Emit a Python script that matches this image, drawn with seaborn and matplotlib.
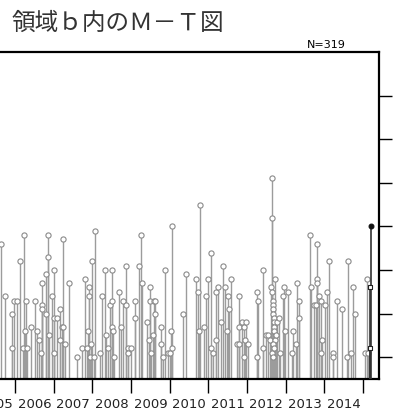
import matplotlib
matplotlib.use('Agg')
import matplotlib.pyplot as plt
import matplotlib.transforms as mtransforms
import seaborn as sns

# 発生時刻（年、小数表記）とマグニチュード — 図から読み取り
years = [
    2005.64, 2005.73, 2005.93, 2005.93, 2005.97, 2006.06, 2006.13, 2006.20, 2006.23, 2006.26,
    2006.29, 2006.30, 2006.41, 2006.51, 2006.58, 2006.61, 2006.67, 2006.70, 2006.70, 2006.71,
    2006.79, 2006.81, 2006.84, 2006.84, 2006.87, 2006.95, 2007.00, 2007.00, 2007.02, 2007.09,
    2007.17, 2007.17, 2007.22, 2007.25, 2007.25, 2007.30,
    2007.39, 2007.60, 2007.74, 2007.82, 2007.85, 2007.89, 2007.91, 2007.92, 2007.94, 2007.96,
    2008.00, 2008.05, 2008.07, 2008.20, 2008.25, 2008.33, 2008.34, 2008.41, 2008.46, 2008.51,
    2008.52, 2008.52, 2008.53, 2008.57, 2008.68, 2008.74, 2008.80, 2008.86, 2008.88, 2008.91,
    2008.91,
    2009.01, 2009.09, 2009.10, 2009.20, 2009.26, 2009.29, 2009.42, 2009.46, 2009.48, 2009.49,
    2009.51, 2009.56, 2009.60, 2009.63, 2009.63, 2009.77, 2009.77, 2009.83, 2009.89, 2009.95,
    2010.00, 2010.03, 2010.05, 2010.06, 2010.35, 2010.42,
    2010.68, 2010.73, 2010.77, 2010.78, 2010.88, 2010.93, 2010.99, 2011.06, 2011.08, 2011.12,
    2011.19, 2011.20, 2011.24, 2011.33, 2011.39, 2011.43, 2011.49, 2011.52, 2011.53, 2011.58,
    2011.73, 2011.78, 2011.79, 2011.80, 2011.88, 2011.91, 2011.92, 2011.96, 2011.98, 2012.02,
    2012.25, 2012.26, 2012.28, 2012.41, 2012.42, 2012.48, 2012.55, 2012.59, 2012.65, 2012.65,
    2012.63, 2012.64, 2012.66, 2012.67, 2012.67, 2012.68, 2012.69, 2012.69, 2012.70, 2012.71,
    2012.72, 2012.64, 2012.66, 2012.67, 2012.69, 2012.72, 2012.74, 2012.78, 2012.83, 2012.86,
    2012.95, 2012.93, 2012.98, 2013.07, 2013.16, 2013.18, 2013.27, 2013.29, 2013.35, 2013.34,
    2013.64, 2013.66, 2013.74, 2013.81, 2013.81, 2013.81,
    2013.78, 2013.87, 2013.92, 2013.93, 2013.92, 2014.01, 2014.07, 2014.11, 2014.22, 2014.23,
    2014.32, 2014.45, 2014.58, 2014.61, 2014.70, 2014.73, 2014.80, 2015.04, 2015.11, 2015.14,
]
mags = [
    3.6, 2.4, 2.0, 1.2, 2.3, 2.3, 3.2, 1.2, 3.8, 1.6,
    2.3, 1.2, 1.7, 2.3, 1.6, 1.4, 1.1, 2.2, 2.1, 2.7,
    2.9, 2.0, 3.8, 3.3, 1.5, 2.4, 3.0, 1.9, 1.1, 1.9,
    2.1, 1.4, 1.7, 3.7, 1.7, 1.3,
    2.7, 1.0, 1.2, 2.8, 1.2, 1.6, 2.6, 2.4, 1.0, 1.3,
    3.2, 1.0, 3.9, 1.1, 2.4, 3.0, 1.5, 1.2, 2.2, 3.0,
    2.3, 1.7, 1.6, 1.0, 2.5, 1.7, 2.3, 2.2, 3.1, 1.2,
    1.1,
    1.2, 1.9, 2.3, 3.1, 3.8, 2.7, 1.8, 1.4, 2.6, 2.3,
    1.1, 1.5, 2.3, 2.3, 2.0, 1.7, 1.3, 1.0, 3.0, 1.1,
    1.1, 1.6, 4.0, 1.2, 2.0, 2.9,
    2.8, 2.5, 1.6, 4.5, 1.7, 2.4, 2.8, 3.4, 1.2, 1.1,
    2.5, 1.4, 2.6, 1.8, 3.1, 2.6, 1.6, 2.4, 2.1, 2.8,
    1.3, 2.4, 1.7, 1.3, 1.8, 1.0, 1.7, 1.4, 1.8, 1.3,
    1.0, 2.5, 2.3, 3.0, 1.2, 1.5, 1.5, 1.4, 5.1, 4.2,
    2.6, 2.5, 2.3, 2.2, 2.1, 2.0, 1.9, 1.8, 1.7, 1.6,
    1.4, 1.1, 1.0, 1.3, 1.2, 2.8, 1.5, 1.8, 1.9, 1.1,
    2.6, 2.4, 1.6, 2.5, 1.1, 1.6, 1.3, 2.7, 2.3, 1.9,
    3.8, 2.6, 2.2, 3.6, 2.8, 2.7,
    2.2, 2.4, 2.3, 1.4, 1.1, 2.2, 2.5, 3.2, 1.1, 1.0,
    2.3, 2.1, 1.0, 3.2, 1.1, 2.6, 2.0, 1.1, 2.8, 1.1,
]
# 最新期間（黒で表示）
recent_years = [2015.18, 2015.18, 2015.22]
recent_mags = [2.6, 1.2, 4.0]

year_ticks = list(range(2006, 2016))
year_labels = list(range(2005, 2015))
mag_ticks = [1, 2, 3, 4, 5, 6, 7]

title = '領域ｂ内のＭ－Ｔ図'
count_label = 'N=319'

sns.set_style('white')
plt.rcParams['font.family'] = ['DejaVu Sans']

fig = plt.figure(figsize=(3.94, 4.12), dpi=100)
ax = fig.add_axes([0.0, 33 / 412, 379 / 394, 327 / 412])

ymin = 0.5
ax.vlines(years, ymin, mags, colors='#9c9c9c', linewidth=1.0, zorder=2)
sns.scatterplot(x=years, y=mags, ax=ax, marker='o', s=14, facecolor='white',
                edgecolor='#8a8a8a', linewidth=0.8, zorder=3, legend=False)
ax.vlines(recent_years, ymin, recent_mags, colors='#333333', linewidth=1.2, zorder=4)
sns.scatterplot(x=recent_years[:2], y=recent_mags[:2], ax=ax, marker='s', s=10,
                facecolor='white', edgecolor='#222222', linewidth=0.8, zorder=5, legend=False)
sns.scatterplot(x=recent_years[2:], y=recent_mags[2:], ax=ax, marker='o', s=12,
                facecolor='#111111', edgecolor='#111111', linewidth=0.8, zorder=5, legend=False)

ax.set_xlim(2005.611, 2015.414)
ax.set_ylim(ymin, 8.0)

for side in ['top', 'right', 'bottom']:
    ax.spines[side].set_visible(True)
    ax.spines[side].set_color('black')
    ax.spines[side].set_linewidth(1.6)
ax.spines['left'].set_visible(False)

ax.yaxis.tick_right()
ax.set_yticks(mag_ticks)
ax.set_yticklabels([])
ax.tick_params(axis='y', which='major', right=True, left=False, direction='out',
               length=9, width=1.0, color='black')
ax.set_xticks(year_ticks)
ax.set_xticklabels([])
ax.tick_params(axis='x', which='major', bottom=True, direction='out',
               length=10, width=1.0, color='black')
ax.set_xlabel('')
ax.set_ylabel('')
ax.grid(False)

trans = mtransforms.blended_transform_factory(ax.transData, ax.transAxes)
for yr in year_labels:
    ax.text(yr + 0.5, -0.0765, str(yr), transform=trans, ha='center', va='center',
            fontsize=9.5, color='#222222', clip_on=False)

fig.text(12 / 394, 1 - 23 / 412, title, ha='left', va='center', fontsize=17,
         color='#333333', family=['Noto Sans CJK JP', 'DejaVu Sans'])
fig.text(326.5 / 394, 1 - 45.5 / 412, count_label, ha='center', va='center',
         fontsize=8, color='black')

fig.savefig('out.png', dpi=100)
